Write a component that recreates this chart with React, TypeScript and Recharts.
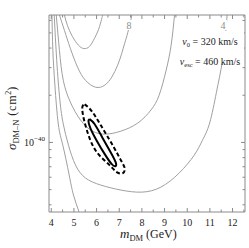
import React from "react";
import { ComposedChart, Line, XAxis, YAxis } from "recharts";

const W = 249;
const H = 248;
const FRAME = "#8a8a8a";
const CONTOUR = "#a0a0a0";
const TEXT = "#222";
const SERIF = "'Liberation Serif', 'Times New Roman', serif";

// m_DM (GeV)
const xDomain = [3.9, 12.55];
const xTicks = [4, 4.5, 5, 5.5, 6, 6.5, 7, 7.5, 8, 8.5, 9, 9.5, 10, 10.5, 11, 11.5, 12, 12.5];

// sigma in units of 1e-40 cm^2
const yDomain = [0.36, 6.5];
const yTicks = [0.4, 0.5, 0.6, 0.7, 0.8, 0.9, 1, 2, 3, 4, 5, 6];

// gray contours, [m_DM, sigma]
const contourA: [number, number][] = [
  [4.58, 6.5], [4.71, 5.59], [4.93, 4.75], [5.2, 4.17], [5.44, 3.97],
  [5.69, 4.1], [5.91, 4.62], [6.09, 5.27], [6.22, 6.1], [6.27, 6.5],
];
const contourB: [number, number][] = [
  [4.36, 6.5], [4.58, 5.19], [4.84, 3.99], [5.16, 3.02], [5.51, 2.49], [5.96, 2.25],
  [6.36, 2.32], [6.67, 2.61], [6.93, 3.11], [7.11, 3.7], [7.24, 4.29], [7.38, 5.04], [7.56, 6.5],
];
const contourC: [number, number][] = [
  [4.22, 6.5], [4.36, 3.87], [4.53, 2.49], [4.84, 1.81], [5.29, 1.39], [5.82, 1.18], [6.4, 1.13],
  [7.07, 1.18], [7.82, 1.33], [8.4, 1.61], [8.76, 2.0], [9.07, 2.89], [9.29, 4.17], [9.44, 6.5],
];
const contourD: [number, number][] = [
  [4.13, 6.5], [4.24, 3.34], [4.38, 1.86], [4.53, 1.31], [4.76, 0.96], [5.07, 0.717],
  [5.51, 0.593], [6.18, 0.535], [7.07, 0.497], [8.0, 0.482], [8.84, 0.519], [9.64, 0.637],
  [10.31, 0.83], [10.67, 1.03], [10.99, 1.33], [11.29, 2.09], [11.54, 3.2], [11.67, 4.48], [11.76, 6.5],
];
const contourE: [number, number][] = [
  [4.03, 6.5], [4.07, 3.87], [4.16, 2.32], [4.31, 1.31], [4.51, 0.96], [4.79, 0.62], [4.98, 0.462], [5.24, 0.355],
];

// best-fit regions
const outerRegion: [number, number][] = [
  [5.47, 1.75], [5.82, 1.56], [6.31, 1.2], [6.76, 0.933], [7.07, 0.771], [7.24, 0.686], [7.16, 0.637],
  [6.89, 0.647], [6.53, 0.727], [6.04, 0.855], [5.69, 1.065], [5.47, 1.35], [5.38, 1.56], [5.38, 1.7], [5.47, 1.75],
];
const innerRegion: [number, number][] = [
  [5.69, 1.41], [5.91, 1.31], [6.27, 1.065], [6.62, 0.867], [6.84, 0.749], [6.84, 0.706], [6.67, 0.727],
  [6.36, 0.842], [6.0, 1.03], [5.73, 1.23], [5.64, 1.37], [5.69, 1.41],
];

const toPts = (c: [number, number][]) => c.map(([x, y]) => ({ x, y }));

function BottomTick({ x, y, payload }: any) {
  const major = Number.isInteger(payload.value);
  return (
    <g>
      <line x1={x} x2={x} y1={y} y2={y - (major ? 4 : 2.5)} stroke={FRAME} />
      {major && (
        <text x={x} y={y + 14} textAnchor="middle" fontSize={10} fontFamily={SERIF} fill={TEXT}>
          {payload.value}
        </text>
      )}
    </g>
  );
}

function TopTick({ x, y, payload }: any) {
  const major = Number.isInteger(payload.value);
  return <line x1={x} x2={x} y1={y} y2={y + (major ? 4 : 2.5)} stroke={FRAME} />;
}

function LeftTick({ x, y, payload }: any) {
  const major = payload.value === 1;
  return (
    <g>
      <line x1={x} x2={x + (major ? 4 : 2.5)} y1={y} y2={y} stroke={FRAME} />
      {major && (
        <text x={x - 4} y={y + 4} textAnchor="end" fontSize={10} fontFamily={SERIF} fill={TEXT}>
          10<tspan dy={-5} fontSize={7}>−40</tspan>
        </text>
      )}
    </g>
  );
}

function RightTick({ x, y, payload }: any) {
  const major = payload.value === 1;
  return <line x1={x} x2={x - (major ? 4 : 2.5)} y1={y} y2={y} stroke={FRAME} />;
}

const contours = [contourA, contourB, contourC, contourD, contourE];

export default function App() {
  return (
    <div style={{ position: "absolute", left: 0, top: 0, width: W, height: H, background: "#fff" }}>
      <ComposedChart width={W} height={H} margin={{ top: 0, right: 0, bottom: 0, left: 0 }}>
        <XAxis xAxisId="b" dataKey="x" type="number" domain={xDomain} allowDataOverflow ticks={xTicks} interval={0}
          height={36} tickLine={false} tickSize={0} tickMargin={0} axisLine={{ stroke: FRAME }} tick={(p: any) => <BottomTick {...p} />} />
        <XAxis xAxisId="t" orientation="top" dataKey="x" type="number" domain={xDomain} allowDataOverflow ticks={xTicks} interval={0}
          height={15} tickLine={false} tickSize={0} tickMargin={0} axisLine={{ stroke: FRAME }} tick={(p: any) => <TopTick {...p} />} />
        <YAxis yAxisId="l" dataKey="y" type="number" scale="log" domain={yDomain} allowDataOverflow ticks={yTicks} interval={0}
          width={49} tickLine={false} tickSize={0} tickMargin={0} axisLine={{ stroke: FRAME }} tick={(p: any) => <LeftTick {...p} />} />
        <YAxis yAxisId="r" orientation="right" dataKey="y" type="number" scale="log" domain={yDomain} allowDataOverflow ticks={yTicks} interval={0}
          width={4} tickLine={false} tickSize={0} tickMargin={0} axisLine={{ stroke: FRAME }} tick={(p: any) => <RightTick {...p} />} />
        {contours.map((c, i) => (
          <Line key={i} data={toPts(c)} dataKey="y" xAxisId="b" yAxisId="l" type="natural" stroke={CONTOUR}
            strokeWidth={1} dot={false} activeDot={false} isAnimationActive={false} />
        ))}
        <Line data={toPts(outerRegion)} dataKey="y" xAxisId="b" yAxisId="l" type="natural" stroke="#000"
          strokeWidth={2} strokeDasharray="4 2.5" dot={false} activeDot={false} isAnimationActive={false} />
        <Line data={toPts(innerRegion)} dataKey="y" xAxisId="b" yAxisId="l" type="natural" stroke="#000"
          strokeWidth={2} dot={false} activeDot={false} isAnimationActive={false} />
      </ComposedChart>

      {/* labels and titles drawn over the plot */}
      <svg width={W} height={H} style={{ position: "absolute", left: 0, top: 0, pointerEvents: "none" }} fontFamily={SERIF}>
        {/* contour labels */}
        <rect x={125} y={20} width={8} height={10} fill="#fff" />
        <text x={129} y={28.5} textAnchor="middle" fontSize={10} fill="#8c8c8c">8</text>
        <rect x={219} y={20} width={8} height={10} fill="#fff" />
        <text x={223} y={28.5} textAnchor="middle" fontSize={10} fill="#8c8c8c">4</text>

        {/* halo parameters */}
        <rect x={175} y={31} width={69} height={32} fill="#fff" />
        <text x={210} y={45} textAnchor="middle" fontSize={10} fill={TEXT}>
          <tspan fontStyle="italic">v</tspan>
          <tspan fontSize={6.5} dy={2}>0</tspan>
          <tspan dy={-2}> = 320 km/s</tspan>
        </text>
        <text x={210} y={65} textAnchor="middle" fontSize={10} fill={TEXT}>
          <tspan fontStyle="italic">v</tspan>
          <tspan fontSize={6.5} dy={2}>esc</tspan>
          <tspan dy={-2}> = 460 km/s</tspan>
        </text>

        {/* axis titles */}
        <text x={120} y={238} fontSize={13} fill={TEXT}>
          <tspan fontStyle="italic">m</tspan>
          <tspan fontSize={8.5} dy={3}>DM</tspan>
          <tspan fontSize={12} dy={-3}> (GeV)</tspan>
        </text>
        <text transform="rotate(-90)" x={-150} y={16} fontSize={13} fill={TEXT}>
          <tspan fontStyle="italic">σ</tspan>
          <tspan fontSize={8.5} dy={3}>DM–N</tspan>
          <tspan fontSize={12} dy={-3} letterSpacing={0.8}> (cm</tspan>
          <tspan fontSize={8} dy={-5}>2</tspan>
          <tspan fontSize={12} dy={5}>)</tspan>
        </text>
      </svg>
    </div>
  );
}
